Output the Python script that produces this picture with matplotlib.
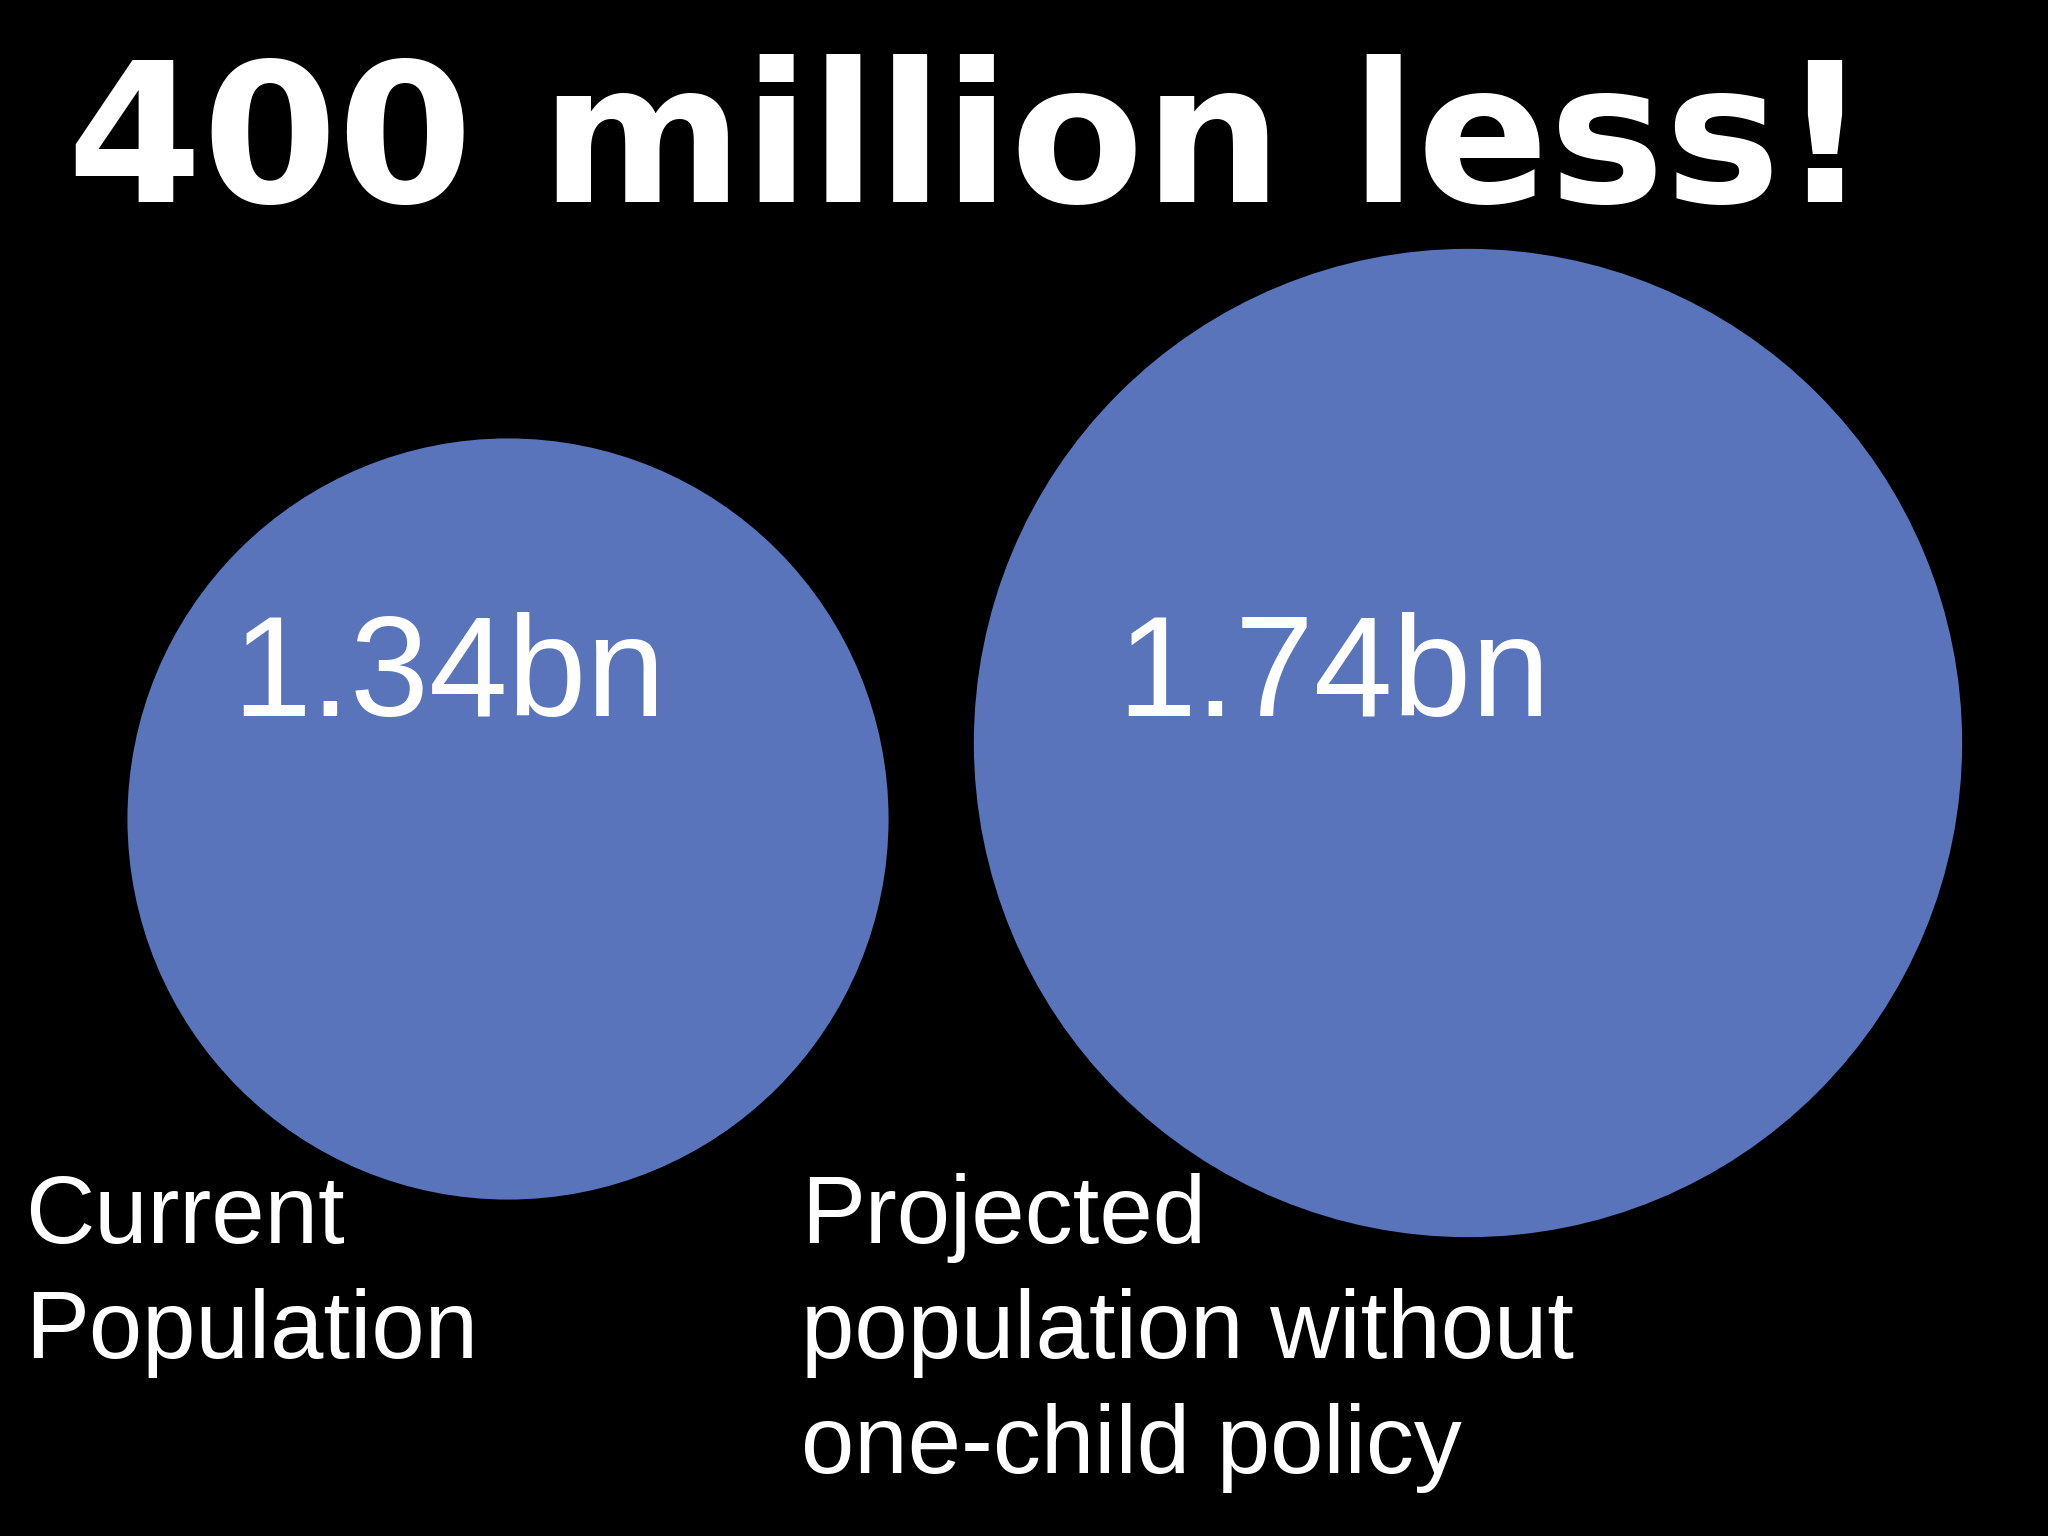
import matplotlib
matplotlib.use("Agg")
import matplotlib.pyplot as plt
from matplotlib.patches import Circle

# ---- data ----
title = "400 million less!"
values_bn = [1.34, 1.74]
value_labels = ["1.34bn", "1.74bn"]
category_labels = [["Current", "Population"],
                   ["Projected", "population without", "one-child policy"]]

# ---- layout / style ----
W, H = 2048, 1536
bg = "black"
blue = "#5A74BC"
px_per_bn = 284.0
centers = [(508, 819), (1468, 743)]
value_label_pos = [(232, 716), (1117, 716)]
cat_label_pos = [(25, 1243), (801, 1243)]
line_step = 115

fig = plt.figure(figsize=(W / 100, H / 100), dpi=100, facecolor=bg)
ax = fig.add_axes([0, 0, 1, 1])
ax.set_facecolor(bg)
ax.set_xlim(0, W)
ax.set_ylim(H, 0)
ax.set_aspect("equal")
ax.axis("off")

for (cx, cy), v in zip(centers, values_bn):
    ax.add_patch(Circle((cx, cy), v * px_per_bn, facecolor=blue, edgecolor="none"))

for (x, y), lab in zip(value_label_pos, value_labels):
    ax.text(x, y, lab, color="white", fontsize=102, family="Liberation Sans",
            ha="left", va="baseline")

for (x, y), lines in zip(cat_label_pos, category_labels):
    for i, line in enumerate(lines):
        ax.text(x, y + i * line_step, line, color="white", fontsize=69,
                family="Liberation Sans", ha="left", va="baseline")

ax.text(67, 202, title, color="white", fontsize=140, family="DejaVu Sans",
        fontweight="bold", ha="left", va="baseline")

fig.savefig("out.png", dpi=100, facecolor=bg)
